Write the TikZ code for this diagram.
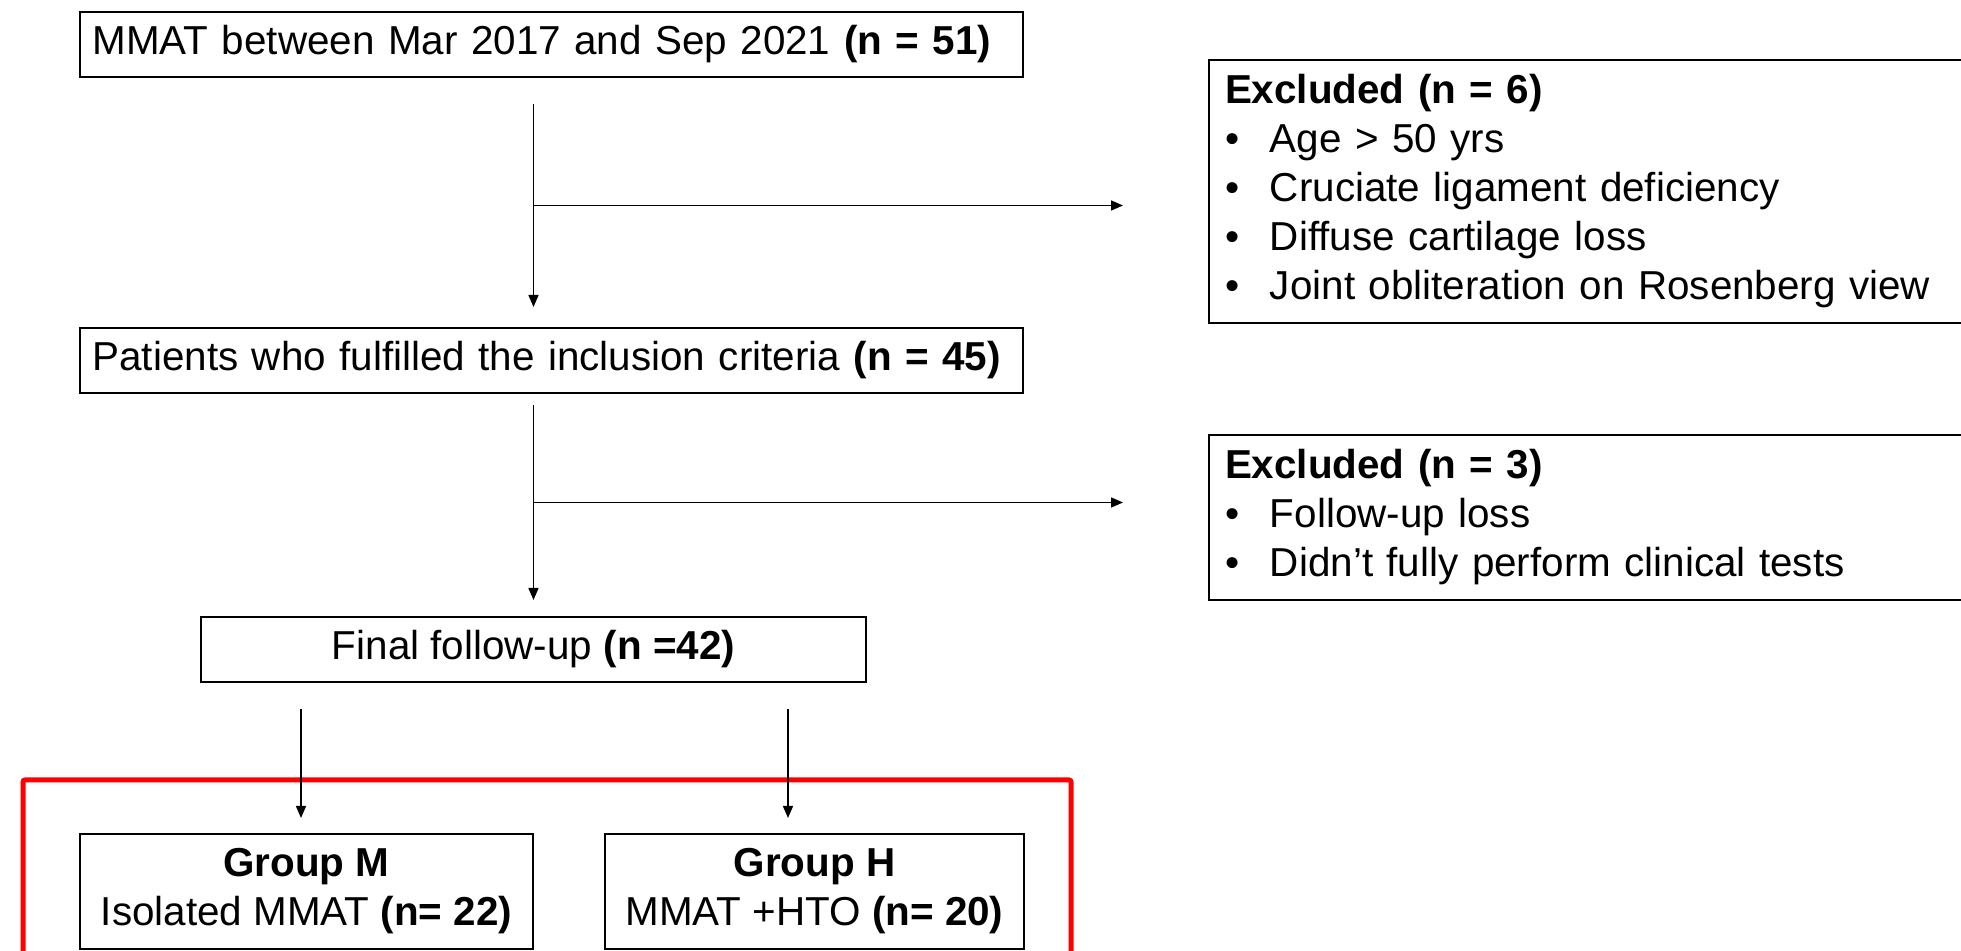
\documentclass[tikz,border=0pt]{standalone}
\usepackage{fontspec}
\setmainfont{Liberation Sans}
\usetikzlibrary{positioning, arrows.meta, calc}

\newcommand{\exbullet}{\makebox[22.5pt][l]{\textbullet}}

\begin{document}
\begin{tikzpicture}[x=0.5pt, y=-0.5pt, >={Triangle[length=6pt, width=5pt]}]
    \tikzstyle{every node}=[font=\fontsize{20.2pt}{24.5pt}\selectfont]
    \tikzset{
      box/.style={draw=black, rectangle, line width=1pt, minimum height=32.5pt, inner xsep=8pt},
      wide/.style={box, text width=459pt, inner xsep=6.25pt, align=left},
      group/.style={box, minimum height=57.5pt, align=center},
      excl/.style={box, text width=384pt, align=left},
      arr/.style={->, line width=0.75pt},
      redframe/.style={draw=red, line width=2.5pt, rounded corners=1pt}
    }
    \useasboundingbox (0,0) rectangle (1961,951);

    \node[wide, anchor=north west]                (mmat) at (79,11) {MMAT between Mar 2017 and Sep 2021 \textbf{(n = 51)}};
    \node[wide, below = 124.5pt of mmat]          (incl) {Patients who fulfilled the inclusion criteria \textbf{(n = 45)}};
    \node[box, minimum width=332.5pt, below = 111pt of incl, xshift=-9pt] (final) {Final follow-up \textbf{(n =42)}};

    \node[group, minimum width=226.5pt, anchor=north west] (grpM) at (79,833) {\textbf{Group M}\\Isolated MMAT \textbf{(n= 22)}};
    \node[group, minimum width=209.5pt, right = 35pt of grpM] (grpH) {\textbf{Group H}\\MMAT +HTO \textbf{(n= 20)}};

    \node[excl, minimum height=131.5pt, anchor=north west] (excl1) at (1208,59) {\textbf{Excluded (n = 6)}\\
      \exbullet Age > 50 yrs\\
      \exbullet Cruciate ligament deficiency\\
      \exbullet Diffuse cartilage loss\\
      \exbullet Joint obliteration on Rosenberg view};
    \node[excl, minimum height=82.5pt, below = 55pt of excl1.south west, anchor=north west] (excl2) {\textbf{Excluded (n = 3)}\\
      \exbullet Follow-up loss\\
      \exbullet Didn’t fully perform clinical tests};

    \draw[redframe] ($(grpM.north west)+(-28pt,26.5pt)$) rectangle ($(grpH.south east)+(23pt,-30pt)$);

    \coordinate (a1s) at ($(mmat.south -| final.north)+(0,-13pt)$);
    \coordinate (a1e) at ($(incl.north -| final.north)+(0,10pt)$);
    \coordinate (a2s) at ($(incl.south -| final.north)+(0,-5.5pt)$);
    \coordinate (a2e) at ($(final.north)+(0,8pt)$);
    \coordinate (b1) at ($(a1s)!0.5!(a1e)$);
    \coordinate (b2) at ($(a2s)!0.5!(a2e)$);
    \coordinate (m1) at ($(final.south west)+(50.5pt,-13pt)$);
    \coordinate (m2) at ($(m1 |- grpM.north)+(0,7.5pt)$);
    \coordinate (h1) at ($(final.south east)+(-39.5pt,-13pt)$);
    \coordinate (h2) at ($(h1 |- grpH.north)+(0,7.5pt)$);

    \draw[arr] (a1s) to (a1e);
    \draw[arr] (a2s) to (a2e);
    \draw[arr, shorten >=42.5pt] (b1) to (b1 -| excl1.west);
    \draw[arr, shorten >=42.5pt] (b2) to (b2 -| excl2.west);
    \draw[arr] (m1) to (m2);
    \draw[arr] (h1) to (h2);

\end{tikzpicture}
\end{document}
